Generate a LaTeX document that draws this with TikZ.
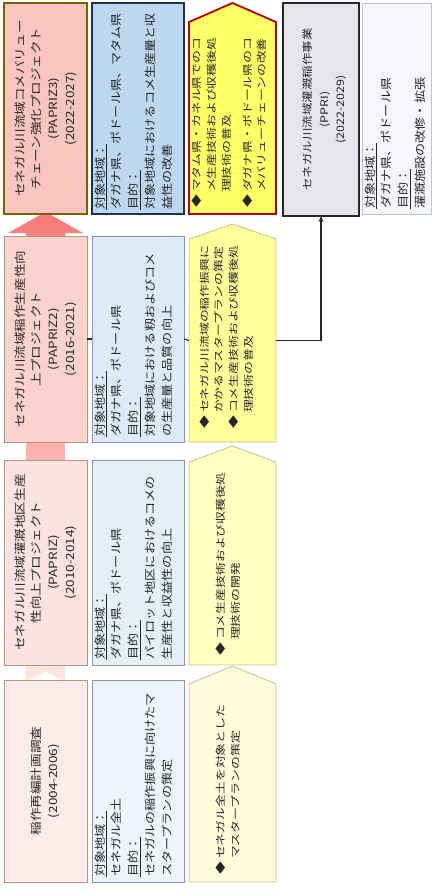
\documentclass[tikz,border=0pt]{standalone}
\usepackage{fontspec}
\newfontfamily\jp{Noto Sans CJK JP}
\usetikzlibrary{arrows.meta}
\definecolor{pinkA}{HTML}{F9C5BF}
\definecolor{pinkB}{HTML}{FAD3CF}
\definecolor{pinkC}{HTML}{FCE3E0}
\definecolor{pinkD}{HTML}{FDECEA}
\definecolor{pinkEdgeA}{HTML}{7F6000}
\definecolor{pinkEdge}{HTML}{B09A7A}
\definecolor{blueA}{HTML}{BDD7EE}
\definecolor{blueB}{HTML}{DDEBF7}
\definecolor{blueC}{HTML}{E5EFF8}
\definecolor{blueD}{HTML}{EEF4FA}
\definecolor{blueEdgeA}{HTML}{1F2F4F}
\definecolor{blueEdge}{HTML}{8496B0}
\definecolor{yelA}{HTML}{FFFF66}
\definecolor{yelB}{HTML}{FFFF99}
\definecolor{yelC}{HTML}{FFFFC2}
\definecolor{yelD}{HTML}{FFFCDB}
\definecolor{yelEdgeA}{HTML}{C00000}
\definecolor{yelEdge}{HTML}{CDBE8F}
\definecolor{grayF}{HTML}{E6E5EC}
\definecolor{grayE}{HTML}{262626}
\definecolor{lightF}{HTML}{F5F7FA}
\definecolor{lightE}{HTML}{BFC5CC}
\definecolor{arrTop}{HTML}{F87A7A}
\definecolor{arrBot}{HTML}{FDE6E4}
\definecolor{txtc}{HTML}{262626}
\begin{document}
\begin{tikzpicture}[x=1pt,y=-1pt,
  box/.style={rectangle, inner sep=0pt, outer sep=0pt, line width=0.8pt},
  shell/.style={rectangle, inner sep=0pt, outer sep=0pt},
  rtxt/.style={rotate=90, inner sep=0pt, text=txtc},
  ptxt/.style={rtxt, xscale=1.2, align=center, font={\jp\fontsize{11.3}{16.6}\selectfont}},
  btxt/.style={rtxt, xscale=1.17, align=left, anchor=north west, font={\jp\fontsize{11.2}{16.8}\selectfont}},
  ytxt/.style={rtxt, xscale=1.3, align=left, anchor=west, font={\jp\fontsize{9.9}{14.8}\selectfont}},
  conn/.style={draw=txtc, line width=1.1pt}
]
\useasboundingbox (0,0) rectangle (433,892);
\fill[white] (0,0) rectangle (433,892);

% big background arrow in pink column
\shade[top color=arrTop, bottom color=arrBot]
  (26,681) -- (45.5,672) -- (65,681) -- (65,233) -- (83,233) -- (45.5,212)
  -- (8,233) -- (26,233) -- cycle;

% pink title boxes
\node[box, fill=pinkA, draw=pinkEdgeA, line width=1.8pt, minimum width=83, minimum height=211] (p3) at (45.5,108.5) {};
\node[box, fill=pinkB, draw=pinkEdge, minimum width=83, minimum height=206] (p2) at (45.5,339) {};
\node[box, fill=pinkC, draw=pinkEdge, minimum width=83, minimum height=205] (p1) at (45.5,562.5) {};
\node[box, fill=pinkD, draw=pinkEdge, minimum width=83, minimum height=202] (p0) at (45.5,781) {};

% blue boxes
\node[box, fill=blueA, draw=blueEdgeA, line width=1.8pt, minimum width=92, minimum height=211] (b3) at (138,108.5) {};
\node[box, fill=blueB, draw=blueEdge, minimum width=92, minimum height=206] (b2) at (138,339) {};
\node[box, fill=blueC, draw=blueEdge, minimum width=92, minimum height=205] (b1) at (138,562.5) {};
\node[box, fill=blueD, draw=blueEdge, minimum width=92, minimum height=202] (b0) at (138,781) {};

% yellow pentagons
\node[shell, minimum width=87, minimum height=192] (y3) at (232.5,118) {};
\node[shell, minimum width=87, minimum height=203] (y2) at (232.5,340.5) {};
\node[shell, minimum width=87, minimum height=203] (y1) at (232.5,563.5) {};
\node[shell, minimum width=87, minimum height=198] (y0) at (232.5,783) {};
\filldraw[fill=yelA, draw=yelEdgeA, line width=1.8pt] (y3.south west) -- (y3.north west) -- ([yshift=19pt]y3.north) -- (y3.north east) -- (y3.south east) -- cycle;
\filldraw[fill=yelB, draw=yelEdge, line width=0.8pt] (y2.south west) -- (y2.north west) -- ([yshift=15pt]y2.north) -- (y2.north east) -- (y2.south east) -- cycle;
\filldraw[fill=yelC, draw=yelEdge, line width=0.8pt] (y1.south west) -- (y1.north west) -- ([yshift=16pt]y1.north) -- (y1.north east) -- (y1.south east) -- cycle;
\filldraw[fill=yelD, draw=yelEdge, line width=0.8pt] (y0.south west) -- (y0.north west) -- ([yshift=18pt]y0.north) -- (y0.north east) -- (y0.south east) -- cycle;

% PPRI and its info box
\node[box, fill=grayF, draw=grayE, line width=1.5pt, minimum width=76, minimum height=213] (ppri) at (321,109.5) {};
\node[box, fill=lightF, draw=lightE, minimum width=69, minimum height=211] (lt) at (396.5,108.5) {};

% connectors
\draw[conn] (p2.east) -- (b2.west);
\draw[conn] (b2.east) -- (y2.west);
\draw[conn, -{Stealth[length=6pt,width=5pt]}] (y2.east) -| (ppri.south);

% pink texts
\node[ptxt] (tp3) at (p3.center) {セネガル川流域コメバリュー\\チェーン強化プロジェクト\\(PAPRIZ3)\\(2022-2027)};
\node[ptxt] (tp2) at (p2.center) {セネガル川流域稲作生産性向\\上プロジェクト\\(PAPRIZ2)\\(2016-2021)};
\node[ptxt] (tp1) at (p1.center) {セネガル川流域灌漑地区生産\\性向上プロジェクト\\(PAPRIZ)\\(2010-2014)};
\node[ptxt] (tp0) at (p0.center) {稲作再編計画調査\\(2004-2006)};

% blue texts
\node[btxt] (tb3) at ([xshift=2.5pt,yshift=4pt]b3.south west) {\underline{対象地域：}\\ダガナ県、ポドール県、マタム県\\\underline{目的：}\\対象地域におけるコメ生産量と収\\益性の改善};
\node[btxt] (tb2) at ([xshift=2.5pt,yshift=5pt]b2.south west) {\underline{対象地域：}\\ダガナ県、ポドール県\\\underline{目的：}\\対象地域における籾およびコメ\\の生産量と品質の向上};
\node[btxt] (tb1) at ([xshift=2.5pt,yshift=5pt]b1.south west) {\underline{対象地域：}\\ダガナ県、ポドール県\\\underline{目的：}\\パイロット地区におけるコメの\\生産性と収益性の向上};
\node[btxt] (tb0) at ([xshift=2.5pt,yshift=5pt]b0.south west) {\underline{対象地域：}\\セネガル全土\\\underline{目的：}\\セネガルの稲作振興に向けたマ\\スタープランの策定};

% yellow texts
\node[ytxt] (ty3) at ([xshift=-3pt,yshift=6pt]y3.south) {◆ マタム県・カネル県でのコ\\\hphantom{◆ }メ生産技術および収穫後処\\\hphantom{◆ }理技術の普及\\[6pt]◆ ダガナ県・ポドール県のコ\\\hphantom{◆ }メバリューチェーンの改善};
\node[ytxt] (ty2) at ([xshift=-6pt,yshift=13pt]y2.south) {◆ セネガル川流域の稲作振興に\\\hphantom{◆ }かかるマスタープランの策定\\◆ コメ生産技術および収穫後処\\\hphantom{◆ }理技術の普及};
\node[ytxt] (ty1) at ([xshift=-4pt,yshift=9pt]y1.south) {◆ コメ生産技術および収穫後処\\\hphantom{◆ }理技術の開発};
\node[ytxt] (ty0) at ([xshift=-4pt,yshift=7pt]y0.south) {◆ セネガル全土を対象とした\\\hphantom{◆ }マスタープランの策定};

% PPRI texts
\node[ptxt, font={\jp\fontsize{10.4}{16.5}\selectfont}] (tpp) at ([xshift=4pt]ppri.center) {セネガル川流域灌漑稲作事業\\(PPRI)\\(2022-2029)};
\node[btxt] (tlt) at ([xshift=2.5pt,yshift=5pt]lt.south west) {\underline{対象地域：}\\ダガナ県、ポドール県\\\underline{目的：}\\灌漑施設の改修・拡張};
\end{tikzpicture}
\end{document}
